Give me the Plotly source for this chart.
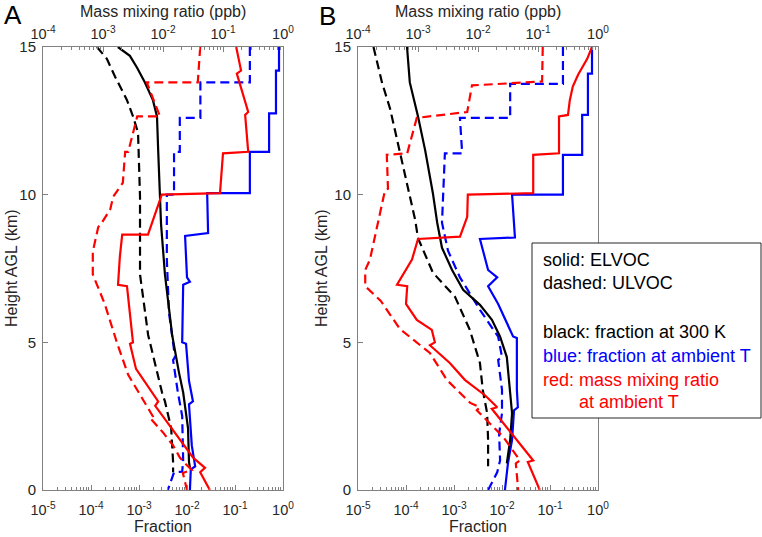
import plotly.graph_objects as go

W, H = 762, 537

# ---------------- Panel A data (height km, fraction / ppb) ----------------
a_blk_sol_h = [15, 14.7, 14.3, 13.8, 13.2, 12.65, 11.5, 10.05, 9.0, 7.3, 5.25, 4.0, 3.3, 2.1, 0.95, 0.75]
a_blk_sol_f = [3.63e-4, 6.46e-4, 9.12e-4, 1.33e-3, 1.95e-3, 2.37e-3, 2.51e-3, 2.75e-3, 2.88e-3, 3.47e-3,
               4.90e-3, 6.76e-3, 8.32e-3, 1.05e-2, 1.10e-2, 1.15e-2]

a_blk_das_h = [15, 14.6, 14.0, 13.2, 12.65, 12.1, 9.93, 7.3, 5.25, 4.0, 3.3, 3.0, 2.1, 0.95, 0.6]
a_blk_das_f = [1.33e-4, 2.14e-4, 3.16e-4, 5.62e-4, 7.50e-4, 9.55e-4, 1.05e-3, 1.05e-3, 1.55e-3, 2.37e-3,
               3.02e-3, 3.47e-3, 4.68e-3, 5.13e-3, 5.13e-3]

a_blu_sol_h = [15, 14.2, 14.2, 12.75, 12.75, 11.45, 11.45, 10.05, 10.05, 8.7, 8.6, 7.2, 7.05, 6.95, 5.0, 4.95,
               3.7, 3.0, 2.9, 1.5, 0.8, 0.7, 0]
a_blu_sol_f = [0.826, 0.826, 0.714, 0.714, 0.513, 0.513, 0.204, 0.204, 2.63e-2, 2.75e-2, 9.12e-3, 1.0e-2,
               1.15e-2, 8.32e-3, 7.94e-3, 9.55e-3, 1.10e-2, 1.33e-2, 1.10e-2, 1.26e-2, 1.48e-2, 1.20e-2, 1.15e-2]

a_blu_das_h = [15, 13.8, 13.8, 12.6, 12.6, 11.45, 11.45, 10.0, 10.0, 7.8, 6.0, 4.5, 4.4, 3.3, 2.5, 1.0,
               0.62, 0.6, 0]
a_blu_das_f = [0.204, 0.204, 1.9e-2, 1.9e-2, 7.08e-3, 7.08e-3, 5.37e-3, 5.37e-3, 3.80e-3, 3.80e-3, 4.22e-3,
               5.62e-3, 5.13e-3, 6.46e-3, 7.94e-3, 8.32e-3, 7.94e-3, 5.37e-3, 3.98e-3]

a_red_sol_h = [15, 14.2, 14.1, 12.8, 12.7, 11.45, 11.4, 10.05, 10.0, 8.65, 8.65, 7.9, 6.95, 6.9, 5.0, 4.95,
               4.1, 3.35, 3.0, 2.85, 1.1, 0.75, 0.6, 0]
a_red_sol_m = [0.166, 0.200, 0.170, 0.263, 0.234, 0.263, 0.100, 0.0891, 9.55e-3, 5.62e-3, 2.09e-3, 1.91e-3,
               1.78e-3, 2.51e-3, 3.16e-3, 2.82e-3, 3.55e-3, 6.31e-3, 8.32e-3, 7.41e-3, 3.16e-2, 5.01e-2,
               4.17e-2, 6.03e-2]

a_red_das_h = [15, 13.8, 13.8, 12.65, 12.65, 11.45, 11.45, 10.4, 9.93, 9.5, 9.05, 8.9, 8.07, 7.3, 6.3, 5.0,
               3.9, 3.05, 2.5, 2.45, 1.95, 1.5, 1.1, 0.9, 0.68, 0.58, 0]
a_red_das_m = [4.17e-2, 3.80e-2, 5.37e-3, 8.91e-3, 3.72e-3, 2.63e-3, 2.34e-3, 2.14e-3, 1.48e-3, 1.32e-3,
               9.55e-4, 8.32e-4, 6.76e-4, 6.76e-4, 1.07e-3, 1.70e-3, 2.63e-3, 4.68e-3, 6.76e-3, 6.03e-3,
               1.0e-2, 1.48e-2, 1.91e-2, 2.34e-2, 3.02e-2, 2.14e-2, 2.51e-2]

# ---------------- Panel B data ----------------
b_blk_sol_h = [15, 13.8, 12.65, 11.5, 10.05, 9.05, 8.2, 7.45, 6.78, 6.27, 5.76, 5.19, 4.5, 3.39, 2.6, 1.7, 1.0, 0.9]
b_blk_sol_f = [1.05e-4, 1.20e-4, 1.78e-4, 2.51e-4, 3.63e-4, 4.47e-4, 5.62e-4, 9.12e-4, 1.55e-3, 3.47e-3,
               6.17e-3, 9.12e-3, 1.26e-2, 1.48e-2, 1.62e-2, 1.48e-2, 1.26e-2, 1.26e-2]

b_blk_das_h = [15, 13.8, 12.9, 11.4, 10.3, 9.15, 8.53, 7.36, 6.54, 5.42, 4.3, 3.39, 2.6, 1.7, 0.8]
b_blk_das_f = [2.1e-5, 3.16e-5, 4.68e-5, 7.50e-5, 1.05e-4, 1.55e-4, 1.78e-4, 3.63e-4, 1.05e-3, 2.14e-3,
               3.47e-3, 3.98e-3, 4.90e-3, 5.13e-3, 5.13e-3]

b_blu_sol_h = [15, 14.1, 14.1, 12.7, 12.7, 11.35, 11.35, 10.0, 10.0, 8.55, 8.5, 7.45, 7.2, 6.9, 6.3, 5.2,
               5.15, 3.4, 2.8, 2.7, 1.7, 0.9, 0]
b_blu_sol_f = [0.750, 0.750, 0.617, 0.617, 0.468, 0.468, 0.186, 0.186, 1.62e-2, 1.86e-2, 3.47e-3, 5.13e-3,
               7.94e-3, 5.13e-3, 8.32e-3, 1.70e-2, 2.04e-2, 2.04e-2, 2.14e-2, 1.78e-2, 1.62e-2, 1.33e-2, 1.15e-2]

b_blu_das_h = [15, 13.75, 13.75, 12.6, 12.6, 11.4, 11.4, 10.15, 9.05, 8.1, 7.2, 6.1, 5.19, 4.5, 4.4, 3.39,
               2.6, 1.9, 1.0, 0.6, 0]
b_blu_das_f = [0.186, 0.186, 1.48e-2, 1.48e-2, 1.33e-3, 1.48e-3, 6.46e-4, 5.89e-4, 5.62e-4, 7.50e-4, 1.33e-3,
               3.47e-3, 8.32e-3, 1.0e-2, 8.32e-3, 1.0e-2, 1.0e-2, 8.71e-3, 9.12e-3, 7.94e-3, 5.13e-3]

b_red_sol_h = [15, 14.6, 14.07, 13.66, 13.2, 12.7, 12.65, 11.4, 11.35, 10.05, 10.0, 9.25, 8.58, 8.5, 7.8,
               6.95, 6.9, 6.3, 5.76, 5.42, 5.0, 4.9, 4.3, 3.73, 3.2, 2.8, 2.75, 1.0, 0.95, 0]
b_red_sol_m = [0.794, 0.661, 0.468, 0.380, 0.339, 0.316, 0.224, 0.224, 8.32e-2, 8.32e-2, 6.76e-3, 6.61e-3,
               5.01e-3, 1.0e-3, 7.94e-4, 4.47e-4, 6.61e-4, 6.31e-4, 9.55e-4, 1.70e-3, 1.91e-3, 1.58e-3,
               3.39e-3, 6.03e-3, 1.32e-2, 2.09e-2, 1.70e-2, 8.32e-2, 6.76e-2, 0.107]

b_red_das_h = [15, 13.83, 13.7, 12.8, 12.6, 11.4, 11.35, 10.2, 10.15, 8.9, 7.8, 7.45, 6.9, 6.4, 5.45, 4.64,
               3.73, 2.95, 2.8, 2.7, 1.8, 1.0, 0.9, 0]
b_red_das_m = [0.120, 0.117, 7.94e-3, 6.61e-3, 9.55e-4, 6.61e-4, 3.02e-4, 3.16e-4, 2.82e-4, 2.09e-4,
               1.58e-4, 1.32e-4, 1.32e-4, 2.40e-4, 5.01e-4, 1.58e-3, 3.02e-3, 7.41e-3, 1.07e-2, 9.55e-3,
               2.63e-2, 5.01e-2, 4.27e-2, 4.68e-2]

# ---------------- axis tick labels ----------------
frac_tickvals = [1e-5, 1e-4, 1e-3, 1e-2, 1e-1, 1e0]
frac_ticktext = ["10<sup>-5</sup>", "10<sup>-4</sup>", "10<sup>-3</sup>", "10<sup>-2</sup>",
                 "10<sup>-1</sup>", "10<sup>0</sup>"]
mmr_tickvals = [1e-4, 1e-3, 1e-2, 1e-1, 1e0]
mmr_ticktext = ["10<sup>-4</sup>", "10<sup>-3</sup>", "10<sup>-2</sup>", "10<sup>-1</sup>", "10<sup>0</sup>"]
height_tickvals = [0, 5, 10, 15]

legend_lines = [
    ("solid: ELVOC", "black"),
    ("dashed: ULVOC", "black"),
    ("black: fraction at 300 K", "black"),
    ("blue: fraction at ambient T", "#0000ff"),
    ("red: mass mixing ratio", "#ff0000"),
    ("at ambient T", "#ff0000"),
]

# ---------------- helpers ----------------
FONT = "Liberation Sans, Arial, sans-serif"
AXC = "#808080"
TXC = "#262626"
LW = 2.2
DASH = "9px,5px"
RED, BLUE, BLACK = "#ff0000", "#0000ff", "#000000"


def px(x):
    return x / W


def py(y):
    return 1 - y / H


def minor_vals(lo, hi):
    vals = []
    for e in range(lo, hi):
        for k in range(2, 10):
            vals.append(k * 10.0 ** e)
    return vals


fig = go.Figure()


def add(x, y, color, dash, xa, ya):
    fig.add_trace(go.Scatter(x=x, y=y, mode="lines", xaxis=xa, yaxis=ya, showlegend=False,
                             line=dict(color=color, width=LW, dash=dash), hoverinfo="skip"))


# Panel A
add(a_red_das_m, a_red_das_h, RED, DASH, "x2", "y")
add(a_red_sol_m, a_red_sol_h, RED, "solid", "x2", "y")
add(a_blk_das_f, a_blk_das_h, BLACK, DASH, "x", "y")
add(a_blu_das_f, a_blu_das_h, BLUE, DASH, "x", "y")
add(a_blu_sol_f, a_blu_sol_h, BLUE, "solid", "x", "y")
add(a_blk_sol_f, a_blk_sol_h, BLACK, "solid", "x", "y")
# Panel B
add(b_red_das_m, b_red_das_h, RED, DASH, "x4", "y2")
add(b_red_sol_m, b_red_sol_h, RED, "solid", "x4", "y2")
add(b_blk_das_f, b_blk_das_h, BLACK, DASH, "x3", "y2")
add(b_blu_das_f, b_blu_das_h, BLUE, DASH, "x3", "y2")
add(b_blu_sol_f, b_blu_sol_h, BLUE, "solid", "x3", "y2")
add(b_blk_sol_f, b_blk_sol_h, BLACK, "solid", "x3", "y2")

xA = [px(43), px(283)]
xB = [px(358), px(598)]
yD = [py(490), py(47)]


def bottom_axis(domain, anchor):
    return dict(type="log", domain=domain, anchor=anchor, range=[-5, 0], side="bottom", automargin=False,
                tickmode="array", tickvals=frac_tickvals, ticktext=frac_ticktext,
                ticks="inside", ticklen=5, tickcolor=AXC, tickwidth=1,
                showline=True, linecolor=AXC, linewidth=1, showgrid=False, zeroline=False,
                tickfont=dict(family=FONT, size=14.5, color=TXC), ticklabelstandoff=7,
                minor=dict(ticks="inside", ticklen=3, tickcolor=AXC, tickmode="array",
                           tickvals=minor_vals(-5, 0), showgrid=False))


def top_axis(domain, overlay, anchor):
    return dict(type="log", domain=domain, anchor=anchor, overlaying=overlay, range=[-4, 0], side="top",
                automargin=False,
                tickmode="array", tickvals=mmr_tickvals, ticktext=mmr_ticktext,
                ticks="inside", ticklen=5, tickcolor=AXC, tickwidth=1,
                showline=True, linecolor=AXC, linewidth=1, showgrid=False, zeroline=False,
                tickfont=dict(family=FONT, size=14.5, color=TXC), ticklabelstandoff=1,
                minor=dict(ticks="inside", ticklen=3, tickcolor=AXC, tickmode="array",
                           tickvals=minor_vals(-4, 0), showgrid=False))


def y_axis(anchor):
    return dict(domain=yD, anchor=anchor, range=[0, 15], tickmode="array", tickvals=height_tickvals,
                automargin=False,
                ticks="inside", ticklen=5, tickcolor=AXC, showline=True, linecolor=AXC, linewidth=1,
                mirror=True, showgrid=False, zeroline=False,
                tickfont=dict(family=FONT, size=15, color=TXC), ticklabelstandoff=3)


annotations = []


def ann(text, x, y, size, color=TXC, xanchor="center", yanchor="middle", angle=0):
    annotations.append(dict(text=text, x=px(x), y=py(y), xref="paper", yref="paper", showarrow=False,
                            xanchor=xanchor, yanchor=yanchor, textangle=angle,
                            font=dict(family=FONT, size=size, color=color)))


# titles
ann("Mass mixing ratio (ppb)", 163, 11, 16)
ann("Mass mixing ratio (ppb)", 478, 11, 16)
ann("Fraction", 163, 526, 16)
ann("Fraction", 478, 526, 16)
ann("Height AGL (km)", 12, 268, 16, angle=-90)
ann("Height AGL (km)", 322, 268, 16, angle=-90)
ann("A", 13, 15, 26, color="black")
ann("B", 327, 16, 26, color="black")

# legend box text
ys = [260, 283, 332, 356, 380, 402]
xs = [541, 541, 541, 541, 541, 577]
for (t, c), yy, xx in zip(legend_lines, ys, xs):
    ann(t, xx, yy, 18, color=c, xanchor="left")

fig.update_layout(
    width=W, height=H, margin=dict(l=0, r=0, t=0, b=0, autoexpand=False),
    paper_bgcolor="white", plot_bgcolor="rgba(0,0,0,0)", showlegend=False,
    xaxis=bottom_axis(xA, "y"),
    xaxis2=top_axis(xA, "x", "y"),
    xaxis3=bottom_axis(xB, "y2"),
    xaxis4=top_axis(xB, "x3", "y2"),
    yaxis=y_axis("x"),
    yaxis2=y_axis("x3"),
    annotations=annotations,
    shapes=[dict(type="rect", xref="paper", yref="paper", x0=px(532), x1=px(761), y0=py(418), y1=py(243),
                 line=dict(color="#262626", width=1), fillcolor="white", layer="above")],
)

fig.write_html("out.html", config={"displayModeBar": False},
               post_script="document.body.style.margin='0px';")
